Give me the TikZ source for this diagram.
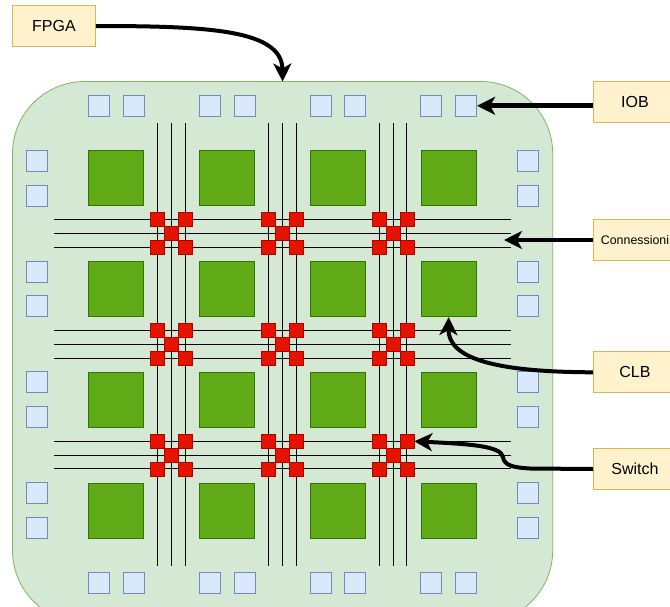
\documentclass[tikz,border=0pt]{standalone}
\usepackage{fontspec}
\setmainfont{Liberation Sans}
\usetikzlibrary{arrows.meta}
\definecolor{boardfill}{HTML}{D5E8D4}
\definecolor{boardline}{HTML}{82B366}
\definecolor{iofill}{HTML}{DAE8FC}
\definecolor{ioline}{HTML}{6C8EBF}
\definecolor{clbfill}{HTML}{60A917}
\definecolor{clbline}{HTML}{2D7600}
\definecolor{swfill}{HTML}{E51400}
\definecolor{swline}{HTML}{B20000}
\definecolor{tagfill}{HTML}{FFF2CC}
\definecolor{tagline}{HTML}{D6B656}
\tikzset{
  board/.style={draw=boardline,fill=boardfill,line width=0.8pt,rounded corners=72pt,minimum width=540.2pt,minimum height=541pt,inner sep=0pt,outer sep=0pt},
  iob/.style={draw=ioline,fill=iofill,line width=1pt,minimum size=21pt,inner sep=0pt,outer sep=0.5pt},
  clb/.style={draw=clbline,fill=clbfill,line width=1pt,minimum size=55pt,inner sep=0pt,outer sep=0.5pt},
  sw/.style={draw=swline,fill=swfill,line width=0.7pt,minimum size=14pt,inner sep=0pt,outer sep=0.35pt},
  tag/.style={draw=tagline,fill=tagfill,line width=0.9pt,minimum width=83pt,minimum height=41.2pt,inner sep=0pt,font=\fontsize{16}{19}\selectfont},
  wire/.style={line width=1pt,black},
  pointer/.style={line width=#1,black,-{Stealth[length=18pt,width=18pt,inset=5pt]}},
  pointer/.default=4pt
}
\begin{document}
\begin{tikzpicture}[x=1pt,y=-1pt]
\useasboundingbox (0,0) rectangle (670,606);
\clip (0,0) rectangle (670,606);
\node[board] (board) at (282.6,352) {};
% input/output blocks
\foreach \c/\x in {0/99,1/209.8,2/320.6,3/431.4}{
  \node[iob] (iotA\c) at (\x,105.8) {};
  \node[iob] (iotB\c) at (\x+34.7,105.8) {};
  \node[iob] (iobA\c) at (\x,583.2) {};
  \node[iob] (iobB\c) at (\x+34.7,583.2) {};
}
\foreach \r/\y in {0/160.8,1/271.6,2/382.4,3/493.2}{
  \node[iob] (iolA\r) at (36.7,\y) {};
  \node[iob] (iolB\r) at (36.7,\y+34.7) {};
  \node[iob] (iorA\r) at (528,\y) {};
  \node[iob] (iorB\r) at (528,\y+34.7) {};
}
% logic blocks
\foreach \c/\x in {0/116.3,1/227.1,2/337.9,3/448.7}{
  \foreach \r/\y in {0/178.3,1/289.1,2/399.9,3/510.7}{
    \node[clb] (clb\c\r) at (\x,\y) {};
  }
}
% routing wires
\foreach \x in {157.7,268.5,379.3}{
  \foreach \d in {0,13.8,27.6}{
    \draw[wire] (\x+\d,123) -- (\x+\d,565.7);
  }
}
\foreach \y in {219.7,330.5,441.3}{
  \foreach \d in {0,13.8,27.6}{
    \draw[wire] (54,\y+\d) -- (510.7,\y+\d);
  }
}
% switches
\foreach \c/\x in {0/157.7,1/268.5,2/379.3}{
  \foreach \r/\y in {0/219.7,1/330.5,2/441.3}{
    \node[sw] (swa\c\r) at (\x,\y) {};
    \node[sw] (swb\c\r) at (\x+27.6,\y) {};
    \node[sw] (swc\c\r) at (\x+13.8,\y+13.8) {};
    \node[sw] (swd\c\r) at (\x,\y+27.6) {};
    \node[sw] (swe\c\r) at (\x+27.6,\y+27.6) {};
  }
}
% labels
\node[tag] (fpga) at (54,26) {FPGA};
\node[tag] (iobtag) at (635,102.2) {IOB};
\node[tag,font=\fontsize{12.4}{14}\selectfont] (conn) at (635,240) {Connessioni};
\node[tag] (clbtag) at (635,372.3) {CLB};
\node[tag] (swtag) at (635,469) {Switch};
\coordinate (wiretarget) at (504,240);
% arrows
\draw[pointer] (fpga.east) .. controls (210,26) and (282,30) .. (board.north);
\draw[pointer=5pt] (iotB3.east -| iobtag.west) -- (iotB3.east);
\draw[pointer=3.5pt] (conn.west) -- (wiretarget);
\draw[pointer] (clbtag.west) .. controls (500,372) and (448,360) .. (clb31.south);
\draw[pointer] (swtag.west) -- (530,468.5) .. controls (512,467.5) and (504,465) .. (503,457) .. controls (501,446) and (470,444) .. (swb22.east);
\end{tikzpicture}
\end{document}
